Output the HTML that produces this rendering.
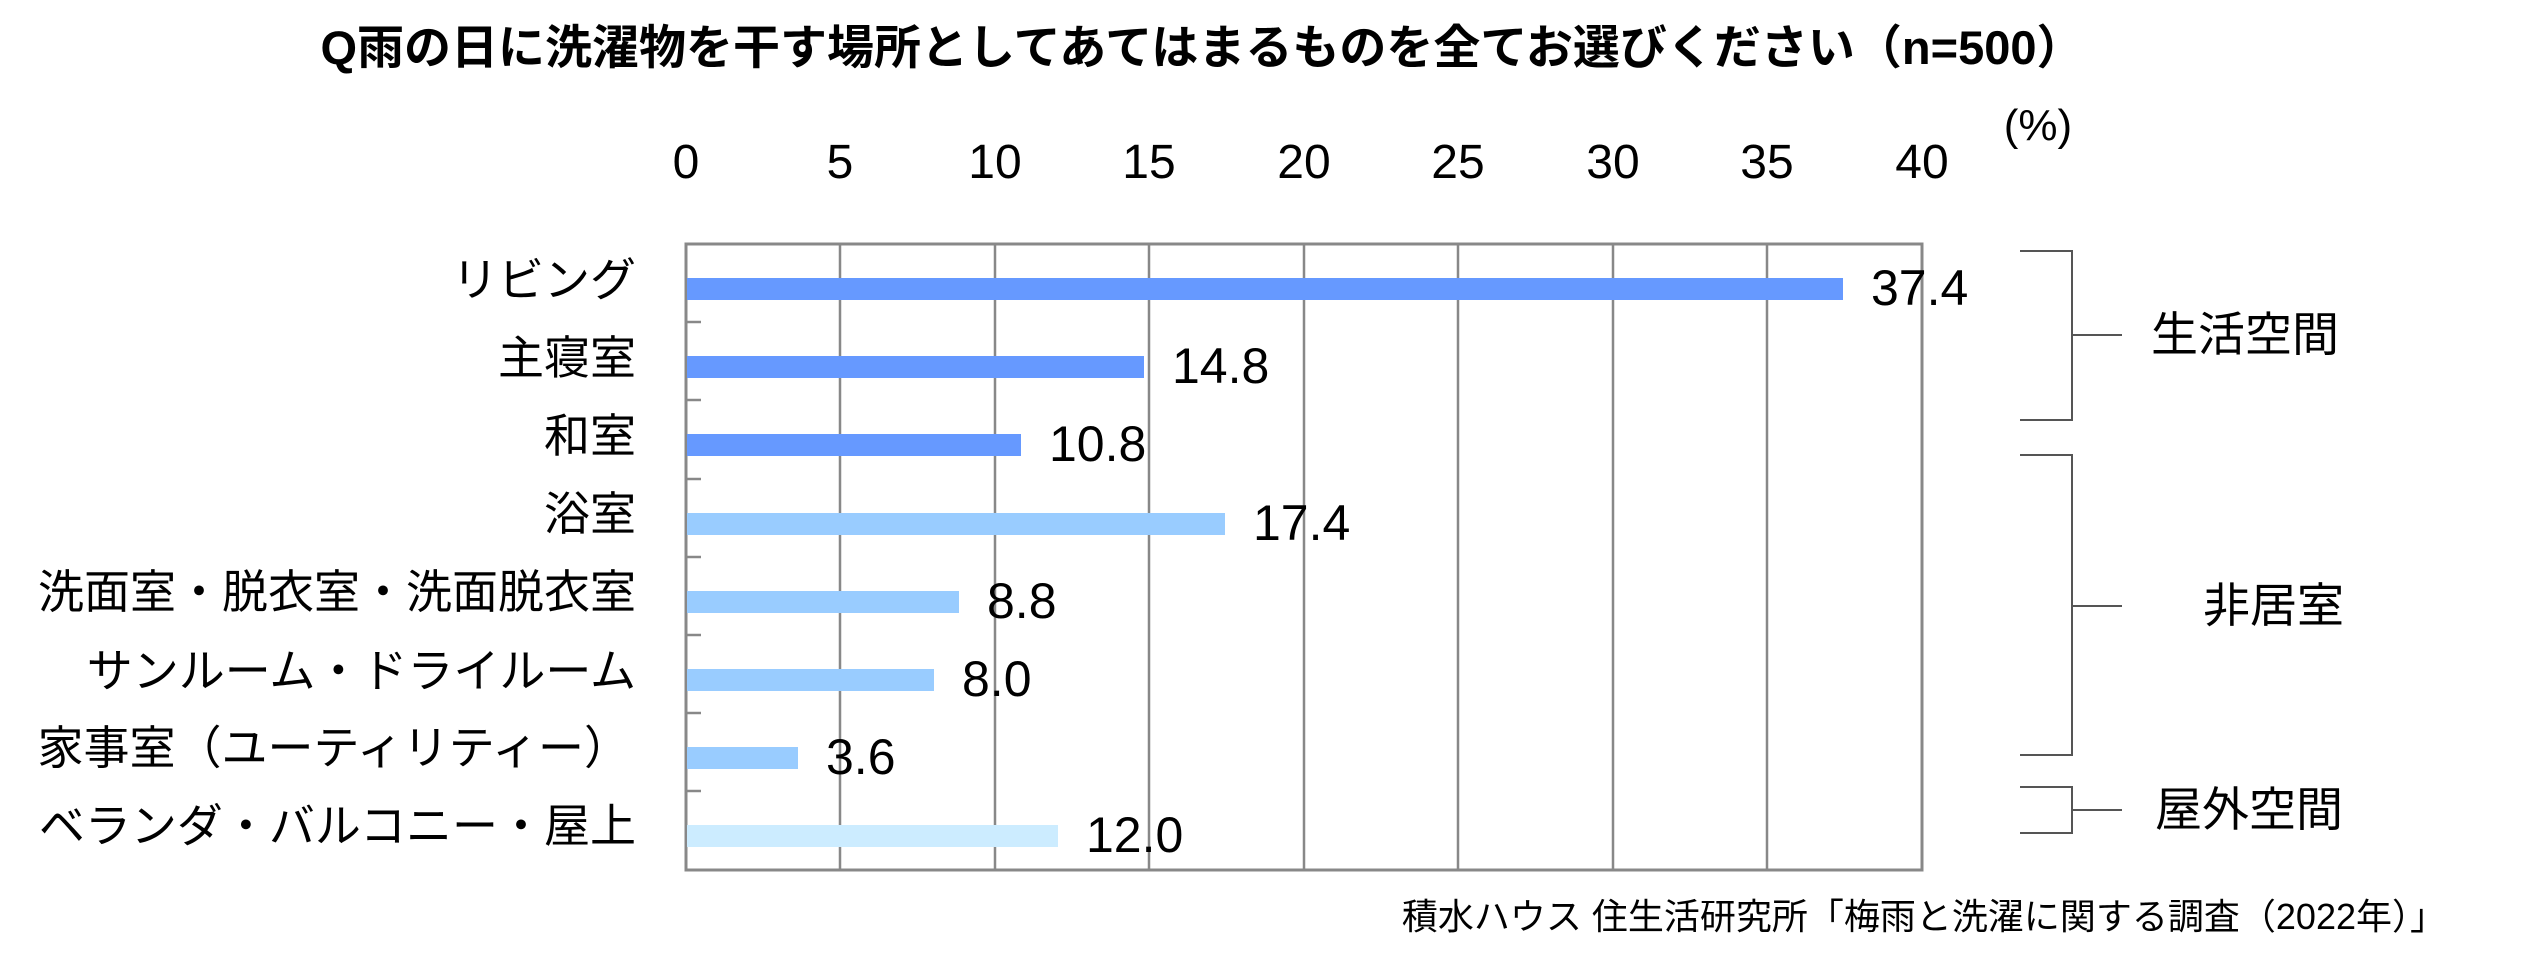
<!DOCTYPE html>
<html><head><meta charset="utf-8"><style>
html,body{margin:0;padding:0;background:#fff;}
svg{display:block;font-family:"Liberation Sans","Noto Sans CJK JP",sans-serif;}
</style></head><body>
<svg width="2540" height="962" viewBox="0 0 2540 962" xmlns="http://www.w3.org/2000/svg">
<text x="1202" y="64" font-size="47" font-weight="bold" text-anchor="middle" fill="#000">Q雨の日に洗濯物を干す場所としてあてはまるものを全てお選びください（n=500）</text>
<text x="2038" y="140" font-size="44" text-anchor="middle">(%)</text>
<g font-size="48" text-anchor="middle" fill="#000">
<text x="686" y="178">0</text><text x="840" y="178">5</text><text x="995" y="178">10</text><text x="1149" y="178">15</text><text x="1304" y="178">20</text><text x="1458" y="178">25</text><text x="1613" y="178">30</text><text x="1767" y="178">35</text><text x="1922" y="178">40</text>
</g>
<g stroke="#888" stroke-width="2.5">
<line x1="840" y1="244" x2="840" y2="870"/><line x1="995" y1="244" x2="995" y2="870"/><line x1="1149" y1="244" x2="1149" y2="870"/><line x1="1304" y1="244" x2="1304" y2="870"/><line x1="1458" y1="244" x2="1458" y2="870"/><line x1="1613" y1="244" x2="1613" y2="870"/><line x1="1767" y1="244" x2="1767" y2="870"/>
<rect x="686" y="244" width="1236" height="626" fill="none" stroke-width="3"/>
<line x1="686" y1="322" x2="701" y2="322"/><line x1="686" y1="400" x2="701" y2="400"/><line x1="686" y1="479" x2="701" y2="479"/><line x1="686" y1="557" x2="701" y2="557"/><line x1="686" y1="635" x2="701" y2="635"/><line x1="686" y1="713" x2="701" y2="713"/><line x1="686" y1="791" x2="701" y2="791"/>
</g>
<g>
<rect x="687" y="278" width="1156" height="22" fill="#6699FF"/>
<rect x="687" y="356" width="457" height="22" fill="#6699FF"/>
<rect x="687" y="434" width="334" height="22" fill="#6699FF"/>
<rect x="687" y="513" width="538" height="22" fill="#99CCFF"/>
<rect x="687" y="591" width="272" height="22" fill="#99CCFF"/>
<rect x="687" y="669" width="247" height="22" fill="#99CCFF"/>
<rect x="687" y="747" width="111" height="22" fill="#99CCFF"/>
<rect x="687" y="825" width="371" height="22" fill="#CCECFF"/>
</g>
<g font-size="50" fill="#000">
<text x="1871" y="305">37.4</text>
<text x="1172" y="383">14.8</text>
<text x="1049" y="461">10.8</text>
<text x="1253" y="540">17.4</text>
<text x="987" y="618">8.8</text>
<text x="962" y="696">8.0</text>
<text x="826" y="774">3.6</text>
<text x="1086" y="852">12.0</text>
</g>
<g font-size="46" text-anchor="end" fill="#000">
<text x="636" y="296">リビング</text>
<text x="636" y="374">主寝室</text>
<text x="636" y="452">和室</text>
<text x="636" y="530">浴室</text>
<text x="636" y="608">洗面室・脱衣室・洗面脱衣室</text>
<text x="636" y="687">サンルーム・ドライルーム</text>
<text x="630" y="764">家事室（ユーティリティー）</text>
<text x="636" y="842">ベランダ・バルコニー・屋上</text>
</g>
<g stroke="#555" stroke-width="2" fill="none">
<polyline points="2020,251 2072,251 2072,420 2020,420"/><line x1="2072" y1="335" x2="2122" y2="335"/>
<polyline points="2020,455 2072,455 2072,755 2020,755"/><line x1="2072" y1="606" x2="2122" y2="606"/>
<polyline points="2020,787 2072,787 2072,833 2020,833"/><line x1="2072" y1="810" x2="2122" y2="810"/>
</g>
<g font-size="47" fill="#000">
<text x="2151" y="351">生活空間</text>
<text x="2203" y="622">非居室</text>
<text x="2155" y="826">屋外空間</text>
</g>
<text x="2446" y="929" font-size="36" text-anchor="end" fill="#000">積水ハウス 住生活研究所「梅雨と洗濯に関する調査（2022年）」</text>
</svg>
</body></html>
